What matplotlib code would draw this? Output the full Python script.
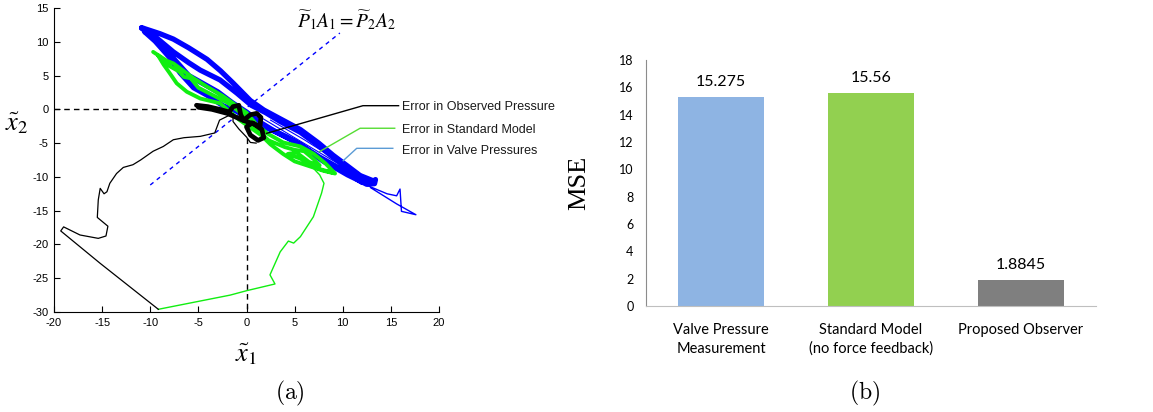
import matplotlib.pyplot as plt

plt.rcParams['axes.unicode_minus'] = False

# ---------------- (a) error trajectories in the x1~/x2~ plane ----------------
# thick blue: error in valve pressures (several laps)
blue_x = [-10.9, -10.5, -9.0, -7.6, -6.0, -4.1, -2.7, -1.4, 0.4, 1.8, 3.5, 5.6, 7.5, 9.0, 10.5, 11.8, 13.2, 13.4, 13.3, 12.5,
          11.8, 10.5, 9.4, 8.0, 6.8, 5.6, 4.2, 3.0, 1.0, -0.5, -2.4, -4.1, -5.5, -6.9, -8.0, -9.5, -10.6,
          -9.7, -7.6, -6.0, -4.8, -2.75, -1.0, 0.5, 2.0, 3.5, 5.6, 7.5, 9.0, 10.5, 12.0, 13.0,
          12.0, 10.5, 9.0, 7.5, 6.0, 4.5, 3.0, 1.5, 0.0, -1.5, -3.0, -4.5, -6.0, -7.0, -8.5, -10.2, -10.9]
blue_y = [12.1, 11.9, 11.2, 10.4, 9.1, 7.4, 5.7, 3.9, 1.3, -0.1, -1.4, -3.0, -5.0, -6.8, -8.4, -9.8, -10.6, -10.4, -11.0, -11.1,
          -10.6, -9.7, -8.8, -7.7, -6.5, -5.2, -4.1, -3.3, -2.1, -0.6, 0.5, 2.1, 3.2, 5.4, 7.7, 10.1, 11.5,
          11.0, 8.5, 6.9, 5.8, 4.35, 2.4, 0.6, -0.5, -1.8, -3.4, -5.4, -7.1, -8.7, -10.1, -10.8,
          -10.8, -9.4, -8.2, -7.0, -5.6, -4.4, -3.3, -2.0, -0.4, 1.0, 2.6, 3.8, 5.0, 6.6, 9.0, 11.4, 12.0]
# thin blue: inner laps and the start-up tail
blue_thin_x = [1.5, 5.0, 9.0, 12.5, 12.8, 10.0, 6.0, 2.5]
blue_thin_y = [-1.2, -4.2, -7.6, -10.5, -10.7, -8.1, -4.5, -1.6]
blue_tail_x = [12.6, 14.6, 15.6, 15.95, 16.1, 17.6, 15.6, 12.9]
blue_tail_y = [-11.3, -12.5, -12.8, -11.8, -15.1, -15.6, -14.0, -11.6]

# thick green: error in standard model
green_x = [-9.7, -8.3, -7.6, -5.5, -4.1, -2.5, -1.4, 0.0, 1.0, 2.2, 3.8, 5.6, 7.0, 8.2, 9.2,
           8.0, 6.5, 5.0, 3.8, 2.5, 1.5, 0.5, -0.8, -2.75, -4.8, -6.2, -7.25, -8.0, -8.6, -9.2,
           -8.0, -7.0, -6.5, -5.8, -5.0, -3.5, -2.0, -0.5, 0.8, 2.3, 4.0, 5.0, 6.0, 7.0, 7.6,
           6.5, 5.2, 4.3, 5.6, 7.5, 9.0]
green_y = [8.5, 7.2, 6.8, 4.6, 3.35, 2.0, 0.9, -0.5, -2.2, -3.6, -4.9, -5.5, -6.6, -8.0, -9.5,
           -9.1, -8.4, -7.7, -6.6, -5.2, -3.8, -2.8, -1.5, 0.9, 1.6, 2.6, 3.85, 5.4, 6.6, 8.0,
           6.4, 5.6, 4.8, 4.6, 3.2, 2.1, 1.0, -0.6, -2.6, -4.6, -5.6, -6.0, -6.2, -7.4, -8.3,
           -7.8, -6.4, -6.6, -7.3, -8.8, -9.4]
green_tail_x = [7.0, 7.6, 8.05, 7.8, 6.95, 5.6, 4.9, 4.35, 3.5, 2.44, 2.96, 0.0, -1.7, -9.16]
green_tail_y = [-8.8, -9.7, -10.95, -12.4, -15.9, -18.85, -19.8, -19.5, -21.1, -24.5, -25.85, -26.85, -27.5, -29.6]

# thick black: error in observed pressure
black_x = [-5.2, -4.0, -2.8, -1.8, -1.4, -0.8, -0.6, -0.3, 0.4, 1.05, 1.5, 1.4, 0.6, 0.0,
           0.4, 1.2, 1.8, 1.6, 0.8, -0.4, -2.0, -3.6, -5.0]
black_y = [0.6, 0.4, 0.0, -0.4, 0.4, 0.6, -0.8, -1.6, -0.8, -0.6, -1.2, -2.6, -2.0, -2.6,
           -3.8, -4.6, -4.2, -3.0, -2.2, -1.6, -0.6, 0.0, 0.3]
black_tail_x = [1.0, 0.4, 0.0, -0.8, -1.4, -1.4, -2.8, -3.3, -4.8, -6.5, -7.6, -8.65, -9.7, -11.0, -11.8,
                -12.8, -13.5, -14.2, -14.5, -14.8, -15.2, -15.4, -15.5, -14.4, -14.6, -15.4, -17.3,
                -19.0, -19.3, -15.2, -9.16]
black_tail_y = [-5.0, -4.9, -4.1, -2.9, -1.8, -0.6, -1.6, -3.5, -4.0, -4.2, -4.5, -5.5, -6.2, -7.5, -8.2,
                -8.6, -9.5, -10.95, -12.2, -12.5, -11.7, -13.4, -16.0, -17.3, -18.75, -19.1, -18.6,
                -17.4, -18.0, -22.8, -29.6]

# reference lines
eq_line_x = [-10.0, 9.7]
eq_line_y = [-11.2, 11.3]
origin = (0.0, 0.0)

# label leaders
legend_labels = ['Error in Observed Pressure', 'Error in Standard Model', 'Error in Valve Pressures']
legend_colors = ['black', '#55dd33', '#5b9bd5']
leader_x = [[2.1, 12.1, 15.8], [7.6, 11.8, 15.4], [10.05, 11.45, 15.2]]
leader_y = [[-3.55, 0.54, 0.54], [-6.25, -2.8, -2.8], [-7.6, -5.77, -5.77]]
label_y = [0.3, -3.06, -6.17]

# ---------------- (b) MSE bars ----------------
methods = ['Valve Pressure\nMeasurement', 'Standard Model\n(no force feedback)', 'Proposed Observer']
mse = [15.275, 15.56, 1.8845]
bar_colors = ['#8eb4e3', '#92d050', '#7f7f7f']

fig = plt.figure(figsize=(11.53, 4.12), dpi=100)

ax = fig.add_axes([54 / 1153, 1 - 312 / 412, 385 / 1153, 304 / 412])
thick = dict(solid_capstyle='round', solid_joinstyle='round')
ax.plot(blue_x, blue_y, color='#0000ff', lw=3.8, zorder=3, **thick)
ax.plot(blue_thin_x, blue_thin_y, color='#0000ff', lw=0.8, zorder=3)
ax.plot(blue_tail_x, blue_tail_y, color='#0000ff', lw=1.0, zorder=3)
ax.plot(green_x, green_y, color='#11ee11', lw=2.8, zorder=4, **thick)
ax.plot(green_tail_x, green_tail_y, color='#11ee11', lw=1.0, zorder=4)
ax.plot(black_x, black_y, color='black', lw=3.4, zorder=5, **thick)
ax.plot(black_tail_x, black_tail_y, color='black', lw=0.9, zorder=5)

ax.plot([-20, -5.2], [origin[1], origin[1]], color='black', lw=1, ls=(0, (4, 3)), zorder=2)
ax.plot([origin[0], origin[0]], [-4.2, -30], color='black', lw=1, ls=(0, (4, 3)), zorder=2)
ax.plot(eq_line_x, eq_line_y, color='#0000ff', lw=1, ls=(0, (3, 3)), zorder=2)

for lx, ly, ty, lab, c in zip(leader_x, leader_y, label_y, legend_labels, legend_colors):
    ax.plot(lx, ly, color=c, lw=1, zorder=6, clip_on=False)
    ax.text(16.2, ty, lab, fontsize=9, family='Liberation Sans', color='#1a1a1a',
            va='center', ha='left', clip_on=False)

ax.text(10.4, 13.2, r'$\widetilde{P}_1A_1=\widetilde{P}_2A_2$', fontsize=14,
        math_fontfamily='stix', ha='center', va='center', clip_on=False)

ax.set_xlim(-20, 20)
ax.set_ylim(-30, 15)
ax.set_xticks(range(-20, 21, 5))
ax.set_yticks(range(-30, 16, 5))
ax.spines['top'].set_visible(False)
ax.spines['right'].set_visible(False)
ax.tick_params(direction='in', length=4, width=0.8, labelsize=8, pad=4)
for lab in ax.get_xticklabels() + ax.get_yticklabels():
    lab.set_family('Liberation Sans')
ax.text(0.5, -0.141, r'$\tilde{x}_1$', transform=ax.transAxes, fontsize=19,
        math_fontfamily='stix', ha='center', va='center')
ax.text(-0.096, 0.622, r'$\tilde{x}_2$', transform=ax.transAxes, fontsize=19,
        math_fontfamily='stix', ha='center', va='center')

bx = fig.add_axes([646 / 1153, 1 - 306 / 412, 450 / 1153, 246 / 412])
bars = bx.bar(range(len(mse)), mse, width=0.57, color=bar_colors)
bx.bar_label(bars, labels=['%g' % v for v in mse], padding=6, fontsize=11.5, family='Lato')
bx.set_xlim(-0.5, 2.5)
bx.set_ylim(0, 18)
bx.set_yticks(range(0, 19, 2))
bx.set_xticks(range(len(mse)))
bx.set_xticklabels(methods, linespacing=1.45)
bx.tick_params(length=0, labelsize=9, pad=9)
bx.tick_params(axis='x', labelsize=10.5, pad=12)
for lab in bx.get_xticklabels() + bx.get_yticklabels():
    lab.set_family('Lato')
bx.spines['top'].set_visible(False)
bx.spines['right'].set_visible(False)
bx.spines['left'].set_color('#8c8c8c')
bx.spines['bottom'].set_color('#bfbfbf')
bx.set_ylabel('MSE', fontsize=19, family='Liberation Serif')
bx.yaxis.set_label_coords(-0.124, 0.5)

fig.text(290 / 1153, 1 - 393 / 412, r'$\mathrm{(a)}$', fontsize=17, math_fontfamily='cm',
         ha='center', va='center')
fig.text(865 / 1153, 1 - 393 / 412, r'$\mathrm{(b)}$', fontsize=17, math_fontfamily='cm',
         ha='center', va='center')

fig.savefig('out.png', dpi=100)
